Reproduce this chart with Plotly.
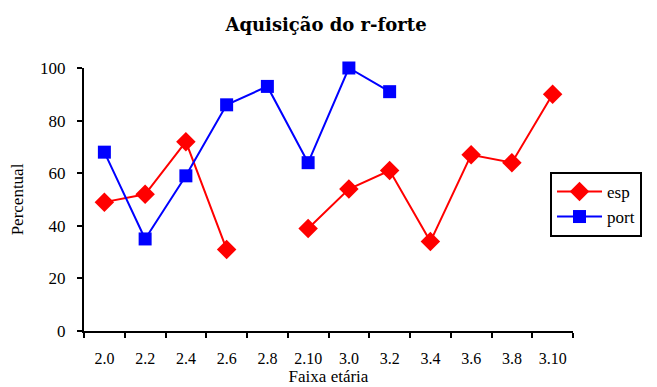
import plotly.graph_objects as go

categories = ["2.0", "2.2", "2.4", "2.6", "2.8", "2.10", "3.0", "3.2", "3.4", "3.6", "3.8", "3.10"]
esp = [49, 52, 72, 31, None, 39, 54, 61, 34, 67, 64, 90]
port = [68, 35, 59, 86, 93, 64, 100, 91, None, None, None, None]

FONT = "Liberation Serif"

fig = go.Figure()
fig.add_trace(go.Scatter(
    x=categories, y=esp, name="esp", mode="lines+markers",
    line=dict(color="#ff0000", width=2),
    marker=dict(symbol="diamond", size=15, color="#ff0000"),
    cliponaxis=False, connectgaps=False,
))
fig.add_trace(go.Scatter(
    x=categories, y=port, name="port", mode="lines+markers",
    line=dict(color="#0000ff", width=2),
    marker=dict(symbol="square", size=13, color="#0000ff"),
    cliponaxis=False, connectgaps=False,
))

# page body has an 8px margin, so the figure is sized to fit inside the window
fig.update_layout(
    width=649, height=379,
    margin=dict(l=76, r=84, t=60, b=56, autoexpand=False),
    paper_bgcolor="white", plot_bgcolor="white",
    font=dict(family=FONT, size=16, color="black"),
    title=dict(text="<b>Aquisição do r-forte</b>", x=0.49, xanchor="center",
               y=0.955, yanchor="middle", font=dict(size=18, family="DejaVu Serif")),
    showlegend=True,
    legend=dict(x=0.953, xanchor="left", y=0.605, yanchor="top",
                bordercolor="black", borderwidth=2, bgcolor="white",
                font=dict(size=17, family=FONT), itemwidth=45,
                tracegroupgap=6),
)
fig.update_xaxes(
    type="category", categoryorder="array", categoryarray=categories,
    range=[-0.5, len(categories) - 0.5],
    showline=True, linecolor="black", linewidth=2, automargin=False,
    ticks="outside", tickson="boundaries", ticklen=5, tickwidth=2, tickcolor="black",
    showgrid=False, zeroline=False, ticklabelstandoff=12, tickangle=0,
    tickfont=dict(size=16, family=FONT),
    title=dict(text="Faixa etária", standoff=4, font=dict(size=17, family=FONT)),
)
fig.update_yaxes(
    range=[0, 100], tickvals=[0, 20, 40, 60, 80, 100],
    showline=True, linecolor="black", linewidth=2, automargin=False,
    ticks="outside", ticklen=5, tickwidth=2, tickcolor="black",
    showgrid=False, zeroline=False, ticklabelstandoff=8,
    tickfont=dict(size=17, family=FONT),
    title=dict(text="Percentual", standoff=22, font=dict(size=17, family=FONT)),
)

fig.write_html("out.html")
